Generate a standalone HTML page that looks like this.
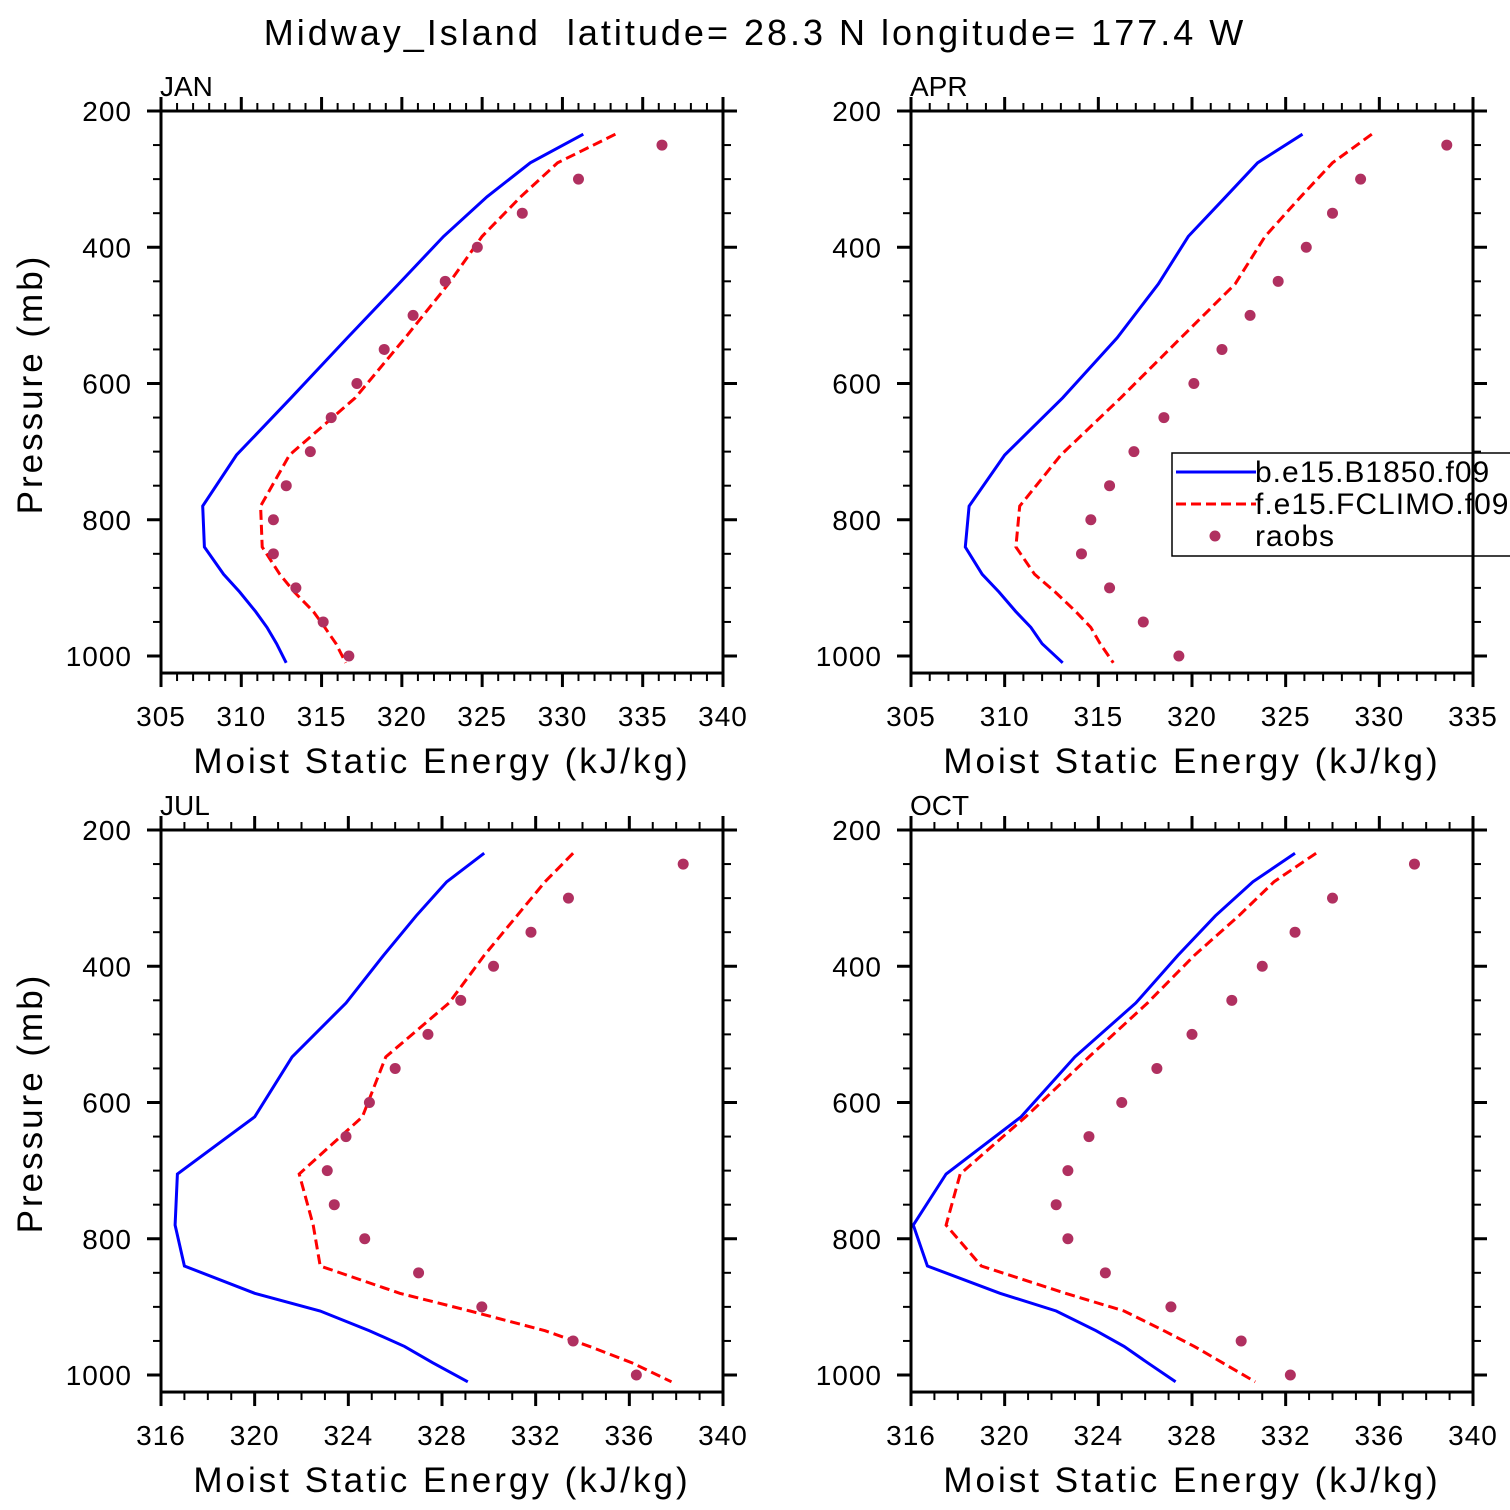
<!DOCTYPE html>
<html><head><meta charset="utf-8"><style>
html,body{margin:0;padding:0;background:#fff;}
svg{display:block;font-family:"Liberation Sans",sans-serif;}
</style></head><body>
<svg id="fig" width="1510" height="1510" viewBox="0 0 1510 1510" xmlns="http://www.w3.org/2000/svg">
<text x="755" y="45" text-anchor="middle" font-size="36" letter-spacing="3" fill="#000" xml:space="preserve">Midway_Island  latitude= 28.3 N longitude= 177.4 W</text>
</svg>
<script>
const modelLevels = [234, 276, 326, 384, 454, 533, 621, 705, 780, 840, 880, 906, 935, 958, 982, 1010];
const obsLevels = [250, 300, 350, 400, 450, 500, 550, 600, 650, 700, 750, 800, 850, 900, 950, 1000];
const panelNames = ["JAN", "APR", "JUL", "OCT"];
const janBlue = [331.3, 328.0, 325.3, 322.6, 319.8, 316.6, 313.1, 309.7, 307.6, 307.7, 308.9, 309.9, 310.9, 311.6, 312.2, 312.8];
const janRed = [333.3, 329.7, 327.4, 325.0, 322.9, 320.2, 317.1, 313.0, 311.2, 311.3, 312.4, 313.3, 314.5, 315.2, 315.9, 316.5];
const janObs = [336.2, 331.0, 327.5, 324.7, 322.7, 320.7, 318.9, 317.2, 315.6, 314.3, 312.8, 312.0, 312.0, 313.4, 315.1, 316.7];
const aprBlue = [325.9, 323.5, 321.8, 319.8, 318.2, 316.0, 313.1, 310.0, 308.1, 307.9, 308.8, 309.7, 310.6, 311.4, 312.0, 313.1];
const aprRed = [329.6, 327.5, 325.8, 323.9, 322.3, 319.4, 316.2, 313.0, 310.8, 310.6, 311.6, 312.7, 313.8, 314.6, 315.1, 315.8];
const aprObs = [333.6, 329.0, 327.5, 326.1, 324.6, 323.1, 321.6, 320.1, 318.5, 316.9, 315.6, 314.6, 314.1, 315.6, 317.4, 319.3];
const julBlue = [329.8, 328.2, 326.9, 325.5, 323.9, 321.6, 320.0, 316.7, 316.6, 317.0, 320.0, 322.8, 324.9, 326.4, 327.6, 329.1];
const julRed = [333.6, 332.4, 331.2, 329.8, 328.3, 325.6, 324.6, 321.9, 322.5, 322.8, 326.2, 329.2, 332.4, 334.3, 336.1, 337.8];
const julObs = [338.3, 333.4, 331.8, 330.2, 328.8, 327.4, 326.0, 324.9, 323.9, 323.1, 323.4, 324.7, 327.0, 329.7, 333.6, 336.3];
const octBlue = [332.4, 330.6, 329.0, 327.4, 325.6, 323.0, 320.7, 317.5, 316.1, 316.7, 319.8, 322.2, 323.9, 325.1, 326.1, 327.3];
const octRed = [333.3, 331.5, 330.0, 328.1, 326.1, 323.6, 320.9, 318.1, 317.5, 319.0, 322.6, 325.1, 326.8, 328.1, 329.3, 330.7];
const octObs = [337.5, 334.0, 332.4, 331.0, 329.7, 328.0, 326.5, 325.0, 323.6, 322.7, 322.2, 322.7, 324.3, 327.1, 330.1, 332.2];
const xRanges = [[305, 340, 5], [305, 335, 5], [316, 340, 4], [316, 340, 4]];
const yTicks = [200, 400, 600, 800, 1000];

const NS = "http://www.w3.org/2000/svg";
const svg = document.getElementById("fig");
function mk(tag, attrs, parent) {
  const e = document.createElementNS(NS, tag);
  for (const k in attrs) e.setAttribute(k, attrs[k]);
  (parent || svg).appendChild(e);
  return e;
}
const blues = [janBlue, aprBlue, julBlue, octBlue];
const reds = [janRed, aprRed, julRed, octRed];
const obss = [janObs, aprObs, julObs, octObs];
const origins = [[161, 111], [911, 111], [161, 830], [911, 830]];
const W = 562, PMIN = 200, PMAX = 1025, PXPERMB = 0.68125;

for (let i = 0; i < 4; i++) {
  const [ox, oy] = origins[i];
  const [xmin, xmax, xstep] = xRanges[i];
  const name = panelNames[i].toLowerCase();
  const g = mk("g", {});
  
  
  const H = (PMAX - PMIN) * PXPERMB;
  const sx = v => ox + (v - xmin) / (xmax - xmin) * W;
  const sy = p => oy + (p - PMIN) * PXPERMB;
  const bl = mk("polyline", {points: modelLevels.map((p, k) => sx(blues[i][k]).toFixed(1) + "," + sy(p).toFixed(1)).join(" "), fill: "none", stroke: "#0000ff", "stroke-width": 3}, g);
  
  
  const rl = mk("polyline", {points: modelLevels.map((p, k) => sx(reds[i][k]).toFixed(1) + "," + sy(p).toFixed(1)).join(" "), fill: "none", stroke: "#ff0000", "stroke-width": 3, "stroke-dasharray": "10,5"}, g);
  
  
  obsLevels.forEach((p, k) => {
    const c = mk("circle", {cx: sx(obss[i][k]), cy: sy(p), r: 5.5, fill: "#b03060"}, g);
    
    
  });
  const fr = mk("rect", {x: ox, y: oy, width: W, height: H, fill: "none", stroke: "#000", "stroke-width": 3}, g);
  
  
  for (let v = xmin; v <= xmax + 1e-6; v += 1) {
    const major = ((v - xmin) % xstep) === 0;
    const L = major ? 14 : 8, sw = major ? 3 : 2;
    const x = sx(v);
    mk("line", {x1: x, x2: x, y1: oy, y2: oy - L, stroke: "#000", "stroke-width": sw}, g);
    mk("line", {x1: x, x2: x, y1: oy + H, y2: oy + H + L, stroke: "#000", "stroke-width": sw}, g);
    if (major) {
      const t = mk("text", {x: x, y: oy + H + 53, "text-anchor": "middle", "font-size": 28, "letter-spacing": "1"}, g);
      t.textContent = v;
      
      
    }
  }
  for (let p = 200; p <= 1000; p += 50) {
    const major = p % 200 === 0;
    const L = major ? 14 : 8, sw = major ? 3 : 2;
    const y = sy(p);
    mk("line", {x1: ox, x2: ox - L, y1: y, y2: y, stroke: "#000", "stroke-width": sw}, g);
    mk("line", {x1: ox + W, x2: ox + W + L, y1: y, y2: y, stroke: "#000", "stroke-width": sw}, g);
  }
  yTicks.forEach(p => {
    const t = mk("text", {x: ox - 29, y: sy(p) + 10, "text-anchor": "end", "font-size": 28, "letter-spacing": "1"}, g);
    t.textContent = p;
    
    
  });
  const pl = mk("text", {x: ox - 1, y: oy - 15, "font-size": 28}, g);
  pl.textContent = panelNames[i];
  
  
  const xt = mk("text", {x: ox + W / 2, y: oy + H + 100, "text-anchor": "middle", "font-size": 35, "letter-spacing": "3"}, g);
  xt.textContent = "Moist Static Energy (kJ/kg)";
  
  
  if (i % 2 === 0) {
    const cy = oy + H / 2 - 8;
    const yt = mk("text", {x: 42, y: cy, "text-anchor": "middle", "font-size": 35, "letter-spacing": "3", transform: "rotate(-90 42 " + cy + ")"}, g);
    yt.textContent = "Pressure (mb)";
    
    
  }
}
const lg = mk("g", {});


mk("rect", {x: 1172, y: 453, width: 360, height: 103, fill: "#fff", stroke: "#000", "stroke-width": 1.5}, lg);
mk("line", {x1: 1473, x2: 1473, y1: 445, y2: 570, stroke: "#000", "stroke-width": 3}, lg);
mk("line", {x1: 1176, x2: 1256, y1: 472, y2: 472, stroke: "#0000ff", "stroke-width": 3}, lg);
mk("line", {x1: 1176, x2: 1256, y1: 504, y2: 504, stroke: "#ff0000", "stroke-width": 3, "stroke-dasharray": "10,5"}, lg);
mk("circle", {cx: 1215, cy: 536, r: 5.5, fill: "#b03060"}, lg);
[["b.e15.B1850.f09", 482, "legend-entry-b1850"], ["f.e15.FCLIMO.f09", 514, "legend-entry-fclimo"], ["raobs", 546, "legend-entry-raobs"]].forEach(([s, y, n]) => {
  const t = mk("text", {x: 1255, y: y, "font-size": 30, "letter-spacing": "1"}, lg);
  t.textContent = s;
  
  
});
</script>
</body></html>
